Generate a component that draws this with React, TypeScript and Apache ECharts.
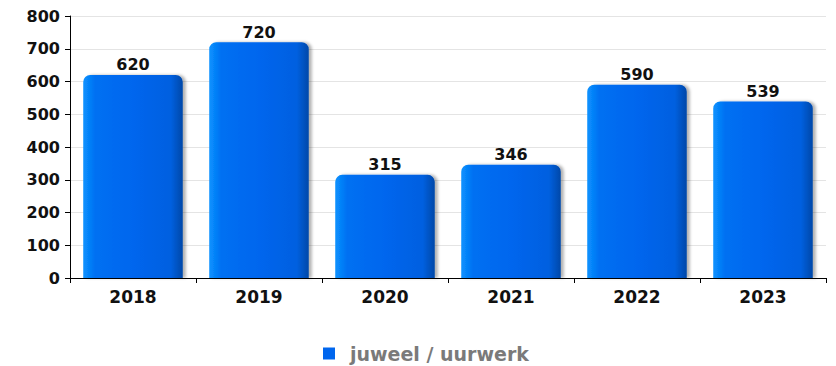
import React, { useEffect, useRef } from "react";
import * as echarts from "echarts";

const categories = ["2018", "2019", "2020", "2021", "2022", "2023"];
const values = [620, 720, 315, 346, 590, 539];
const seriesName = "juweel / uurwerk";
const yTicks = { min: 0, max: 800, interval: 100 };

export default function App() {
  const ref = useRef<HTMLDivElement>(null);
  useEffect(() => {
    const chart = echarts.init(ref.current!, null, { renderer: "svg" });
    const font = "DejaVu Sans";
    chart.setOption({
      animation: false,
      grid: { left: 70, right: 10, top: 16, bottom: 88 },
      legend: {
        top: 339,
        left: 318,
        itemWidth: 12,
        itemHeight: 12,
        icon: "rect",
        itemGap: 10,
        textStyle: {
          fontFamily: font,
          fontWeight: "bold",
          fontSize: 19,
          color: "#7a7a7a",
          padding: [0, 0, 0, 10],
        },
        data: [{ name: seriesName, itemStyle: { color: "#0066ee" } }],
      },
      xAxis: {
        type: "category",
        data: categories,
        axisLine: { lineStyle: { color: "#000", width: 1 } },
        axisTick: { show: true, alignWithLabel: false, length: 5, lineStyle: { color: "#000" } },
        axisLabel: { fontFamily: font, fontWeight: "bold", fontSize: 17, color: "#111", margin: 10 },
      },
      yAxis: {
        type: "value",
        min: yTicks.min,
        max: yTicks.max,
        interval: yTicks.interval,
        axisLine: { show: true, lineStyle: { color: "#000", width: 1 } },
        axisTick: { show: true, length: 5, lineStyle: { color: "#000" } },
        axisLabel: { fontFamily: font, fontWeight: "bold", fontSize: 16, color: "#111", margin: 10 },
        splitLine: { lineStyle: { color: "#e4e4e4" } },
      },
      series: [
        {
          name: seriesName,
          type: "bar",
          data: values,
          barCategoryGap: "21%",
          itemStyle: {
            borderRadius: [7, 7, 0, 0],
            color: new echarts.graphic.LinearGradient(0, 0, 1, 0, [
              { offset: 0, color: "#0a93ff" },
              { offset: 0.12, color: "#0070f2" },
              { offset: 0.5, color: "#0066ee" },
              { offset: 0.88, color: "#0060e0" },
              { offset: 1, color: "#0048a8" },
            ]),
            shadowColor: "rgba(0,0,0,0.3)",
            shadowBlur: 3,
            shadowOffsetX: 3,
            shadowOffsetY: 0,
          },
          label: {
            show: true,
            position: "top",
            distance: 2,
            fontFamily: font,
            fontWeight: "bold",
            fontSize: 16,
            color: "#111",
          },
        },
      ],
    });
    return () => chart.dispose();
  }, []);
  return (
    <div
      ref={ref}
      style={{ position: "absolute", left: 0, top: 0, width: 836, height: 366 }}
    />
  );
}
